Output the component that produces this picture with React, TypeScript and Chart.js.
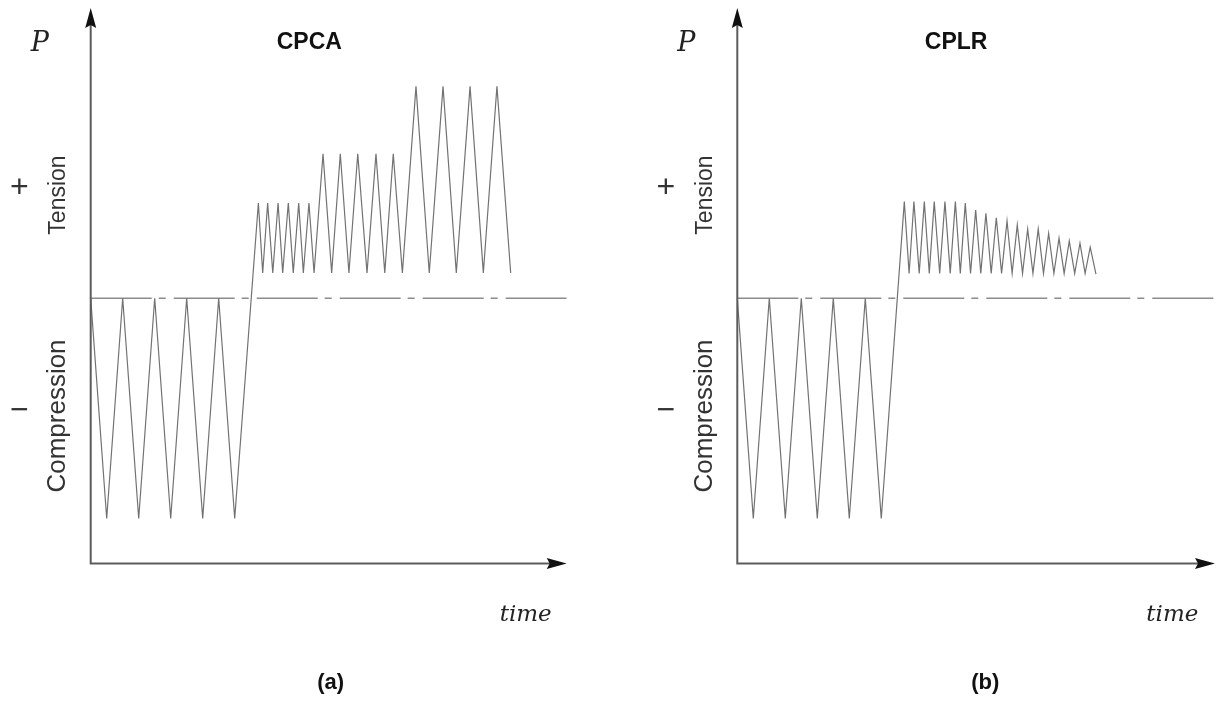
import React, { useEffect, useRef } from "react";
import { Chart, registerables } from "chart.js";

Chart.register(...registerables);

// ---- data (time in half-cycles of the compression loading, load in arbitrary units) ----
const cpcaTime = [
  0, 1, 2, 3, 4, 5, 6, 7, 8, 9,
  10.48, 10.75, 11.06, 11.38, 11.71, 12.0, 12.35, 12.66, 13.0, 13.29, 13.64, 13.96,
  14.52, 15.06, 15.6, 16.14, 16.69, 17.27, 17.83, 18.38, 18.91, 19.48,
  20.33, 21.16, 22.02, 22.85, 23.71, 24.54, 25.39, 26.25,
];
const cpcaLoad = [
  0, -10, 0, -10, 0, -10, 0, -10, 0, -10,
  4.33, 1.15, 4.33, 1.15, 4.33, 1.15, 4.33, 1.15, 4.33, 1.15, 4.33, 1.15,
  6.56, 1.15, 6.56, 1.15, 6.56, 1.15, 6.56, 1.15, 6.56, 1.15,
  9.62, 1.15, 9.62, 1.15, 9.62, 1.15, 9.62, 1.15,
];

const cplrTime = [
  0, 1, 2, 3, 4, 5, 6, 7, 8, 9,
  10.44, 10.74, 11.04, 11.37, 11.69, 12.0, 12.31, 12.65, 12.98, 13.31,
  13.63, 13.94, 14.25, 14.58, 14.9, 15.22, 15.54, 15.87, 16.19, 16.52,
  16.86, 17.18, 17.5, 17.83, 18.15, 18.48, 18.81, 19.14, 19.46, 19.79,
  20.11, 20.43, 20.75, 21.09, 21.42, 21.74, 22.06, 22.42,
];
const cplrLoad = [
  0, -10, 0, -10, 0, -10, 0, -10, 0, -10,
  4.39, 1.13, 4.39, 1.13, 4.39, 1.13, 4.39, 1.13, 4.39, 1.13,
  4.39, 1.13, 4.32, 1.13, 4.01, 1.13, 3.86, 1.13, 3.66, 1.13,
  3.51, 1.13, 3.33, 1.13, 3.14, 1.13, 3.14, 1.13, 2.95, 1.13,
  2.73, 1.13, 2.6, 1.13, 2.5, 1.13, 2.32, 1.1,
];

const panelTitles = ["CPCA", "CPLR"];
const panelLabels = ["(a)", "(b)"];
const axisLabelY = "P";
const axisLabelX = "time";
const tensionLabel = "Tension";
const compressionLabel = "Compression";

const LOAD_MIN = -12.04;
const LOAD_MAX = 13.18;

type PanelCfg = {
  time: number[];
  load: number[];
  title: string;
  label: string;
  tMax: number;
  canvasLeft: number;
  canvasWidth: number;
  pad: { left: number; right: number; top: number; bottom: number };
  titleDx: number;
  labelDx: number;
};

const SANS = '"Liberation Sans", Arial, sans-serif';
const SERIF = '"DejaVu Serif", serif';

function arrow(ctx: CanvasRenderingContext2D, tx: number, ty: number, dir: "up" | "right") {
  const L = 20;
  const W = 5.5;
  ctx.beginPath();
  if (dir === "up") {
    ctx.moveTo(tx, ty);
    ctx.lineTo(tx - W, ty + L);
    ctx.lineTo(tx, ty + L - 3);
    ctx.lineTo(tx + W, ty + L);
  } else {
    ctx.moveTo(tx, ty);
    ctx.lineTo(tx - L, ty - W);
    ctx.lineTo(tx - L + 3, ty);
    ctx.lineTo(tx - L, ty + W);
  }
  ctx.closePath();
  ctx.fillStyle = "#111";
  ctx.fill();
}

function makePlugin(cfg: PanelCfg) {
  return {
    id: "decor",
    afterDatasetsDraw(chart: any) {
      const ctx: CanvasRenderingContext2D = chart.ctx;
      const xs = chart.scales.x;
      const ys = chart.scales.y;
      const ox = xs.getPixelForValue(0);
      const oy = ys.getPixelForValue(LOAD_MIN);
      const topY = ys.getPixelForValue(LOAD_MAX);
      const rightX = xs.getPixelForValue(cfg.tMax);
      ctx.save();
      // axes
      ctx.strokeStyle = "#5c5c5c";
      ctx.lineWidth = 2;
      ctx.beginPath();
      ctx.moveTo(ox, topY + 16);
      ctx.lineTo(ox, oy);
      ctx.lineTo(rightX - 16, oy);
      ctx.stroke();
      arrow(ctx, ox, topY, "up");
      arrow(ctx, rightX, oy, "right");

      // texts
      ctx.fillStyle = "#222";
      ctx.textBaseline = "alphabetic";
      ctx.textAlign = "left";
      ctx.font = `italic 27px ${SERIF}`;
      ctx.fillText(axisLabelY, ox - 60, 51);
      ctx.font = `italic 23px ${SERIF}`;
      ctx.fillText(axisLabelX, ox + 409, 621);

      ctx.fillStyle = "#111";
      ctx.font = `bold 23px ${SANS}`;
      ctx.fillText(cfg.title, ox + cfg.titleDx, 48.5);

      ctx.textAlign = "center";
      ctx.font = `bold 22px ${SANS}`;
      ctx.textBaseline = "middle";
      ctx.fillText(cfg.label, ox + cfg.labelDx, 683);

      ctx.fillStyle = "#333";
      ctx.font = `32px ${SANS}`;
      ctx.fillText("+", ox - 71.4, 188);
      ctx.fillText("\u2212", ox - 71.4, 411);

      ctx.textBaseline = "alphabetic";
      ctx.save();
      ctx.translate(ox - 25.5, 195);
      ctx.rotate(-Math.PI / 2);
      ctx.font = `23px ${SANS}`;
      ctx.fillText(tensionLabel, 0, 0);
      ctx.restore();
      ctx.save();
      ctx.translate(ox - 25.5, 416);
      ctx.rotate(-Math.PI / 2);
      ctx.font = `26px ${SANS}`;
      ctx.fillText(compressionLabel, 0, 0);
      ctx.restore();

      ctx.restore();
    },
  };
}

function Panel({ cfg }: { cfg: PanelCfg }) {
  const ref = useRef<HTMLCanvasElement | null>(null);
  useEffect(() => {
    if (!ref.current) return;
    const chart = new Chart(ref.current, {
      type: "line",
      data: {
        datasets: [
          {
            label: "zero",
            data: [
              { x: 0, y: 0 },
              { x: cfg.tMax, y: 0 },
            ],
            borderColor: "#8c8c8c",
            borderWidth: 1.5,
            borderDash: [61, 7, 7, 8],
            pointRadius: 0,
            order: 2,
          },
          {
            label: "load",
            data: cfg.time.map((t, i) => ({ x: t, y: cfg.load[i] })),
            borderColor: "#727272",
            borderWidth: 1.2,
            pointRadius: 0,
            tension: 0,
            order: 1,
          },
        ],
      },
      options: {
        animation: false,
        responsive: false,
        devicePixelRatio: 1,
        layout: { padding: cfg.pad },
        plugins: { legend: { display: false }, tooltip: { enabled: false }, title: { display: false } },
        events: [],
        scales: {
          x: { type: "linear", display: false, min: 0, max: cfg.tMax },
          y: { type: "linear", display: false, min: LOAD_MIN, max: LOAD_MAX },
        },
      },
      plugins: [makePlugin(cfg)],
    } as any);
    return () => chart.destroy();
  }, [cfg]);
  return (
    <canvas
      ref={ref}
      width={cfg.canvasWidth}
      height={702}
      style={{ position: "absolute", left: cfg.canvasLeft, top: 0, width: cfg.canvasWidth, height: 702 }}
    />
  );
}

const panels: PanelCfg[] = [
  {
    time: cpcaTime,
    load: cpcaLoad,
    title: panelTitles[0],
    label: panelLabels[0],
    tMax: 29.75,
    canvasLeft: 0,
    canvasWidth: 610,
    pad: { left: 90.7, right: 43.3, top: 8, bottom: 138.5 },
    titleDx: 186,
    labelDx: 240,
  },
  {
    time: cplrTime,
    load: cplrLoad,
    title: panelTitles[1],
    label: panelLabels[1],
    tMax: 29.86,
    canvasLeft: 610,
    canvasWidth: 609,
    pad: { left: 127.3, right: 4, top: 8, bottom: 138.5 },
    titleDx: 187.5,
    labelDx: 248,
  },
];

export default function App() {
  return (
    <div style={{ position: "absolute", left: 0, top: 0, width: 1219, height: 702, background: "#fff", overflow: "hidden" }}>
      {panels.map((p, i) => (
        <Panel key={i} cfg={p} />
      ))}
    </div>
  );
}
